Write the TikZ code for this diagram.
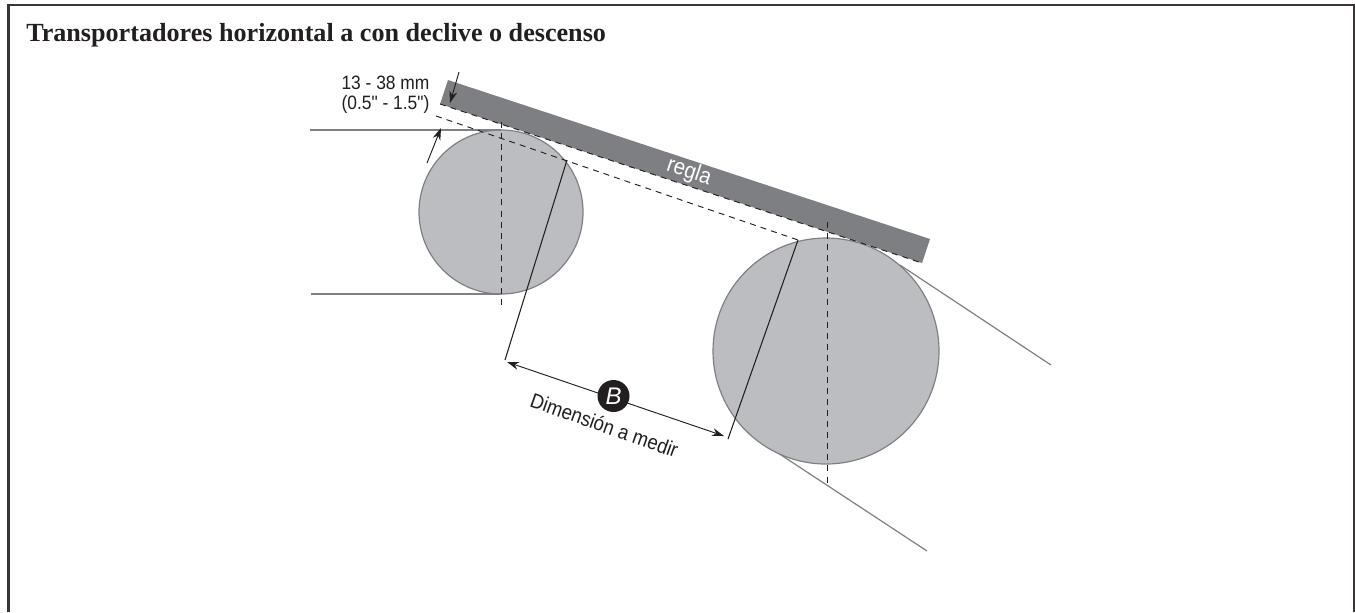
\documentclass[tikz,border=0pt]{standalone}
\usepackage{fontspec}
\setmainfont{Liberation Serif}
\newfontfamily\labfont{Liberation Sans}
\usetikzlibrary{arrows.meta}
\definecolor{rulergray}{HTML}{7E7F83}
\definecolor{rollfill}{HTML}{BBBDC0}
\definecolor{rolledge}{HTML}{7F8083}
\definecolor{ink}{HTML}{231F20}
\tikzset{
  x=0.75pt,y=-0.75pt,
  roll/.style={circle,draw=rolledge,fill=rollfill,line width=0.9pt,inner sep=0pt},
  belt/.style={draw=rolledge,line width=0.9pt},
  dashline/.style={draw=ink,line width=0.7pt,dash pattern=on 4.5pt off 3.8pt},
  extline/.style={draw=ink,line width=0.8pt},
  dimarrow/.style={draw=ink,line width=0.7pt,-{Stealth[length=9pt,width=6pt]}},
  dimboth/.style={draw=ink,line width=0.7pt,{Stealth[length=9pt,width=6pt]}-{Stealth[length=9pt,width=6pt]}},
  lab/.style={xscale=0.9,transform shape,font=\labfont\fontsize{14.5}{15}\selectfont,text=ink,inner sep=0pt,align=center},
}
\begin{document}
\begin{tikzpicture}
\useasboundingbox (0,0) rectangle (1355,612);
\path[fill=white] (0,0) rectangle (1355,612);
\draw[draw=ink!90,line width=1.9pt] (8.7,612) -- (8.7,5) -- (1353.8,5) -- (1353.8,612);
\node[anchor=west,inner sep=0pt,font=\bfseries\fontsize{19.6}{21}\selectfont,text=ink] (title) at (26,35) {Transportadores horizontal a con declive o descenso};
% rollers
\coordinate (t1a) at (310,130); \coordinate (t1b) at (501,130);
\coordinate (t2a) at (311,294); \coordinate (t2b) at (501,294);
\coordinate (t3a) at (900,265); \coordinate (t3b) at (1051,365);
\coordinate (t4a) at (775,451); \coordinate (t4b) at (927,551);
\draw[belt] (t3a) -- (t3b);
\draw[belt] (t4a) -- (t4b);
\node[roll,minimum size=123pt] (small) at (501,212) {};
\node[roll,minimum size=169.5pt] (large) at (826,351) {};
\draw[belt] (t1a) -- (t1b);
\draw[belt] (t2a) -- (t2b);
% ruler
\fill[rulergray] (448,80) -- (930,239) -- (922,263) -- (440,104) -- cycle;
\node[rotate=-18.5,lab,text=white,font=\labfont\fontsize{17}{17}\selectfont] (regla) at (689,172) {regla};
% dashed lines
\coordinate (r1) at (440,104); \coordinate (r2) at (922,263);
\coordinate (d1) at (436,116); \coordinate (d2) at (798,240);
\coordinate (v1a) at (501,122); \coordinate (v1b) at (501,307);
\coordinate (v2a) at (827,222); \coordinate (v2b) at (827,484);
\draw[dashline] (r1) -- (r2);
\draw[dashline] (d1) -- (d2);
\draw[dashline] (v1a) -- (v1b);
\draw[dashline] (v2a) -- (v2b);
% extension lines
\coordinate (e1a) at (567,160); \coordinate (e1b) at (505,360);
\coordinate (e2a) at (798,240); \coordinate (e2b) at (728,439);
\draw[extline] (e1a) -- (e1b);
\draw[extline] (e2a) -- (e2b);
% dimension
\coordinate (b1) at (507,362); \coordinate (b2) at (724,436);
\draw[dimboth] (b1) -- (b2);
\node[circle,fill=ink,minimum size=24pt,inner sep=0pt,text=white,font=\labfont\itshape\fontsize{18}{18}\selectfont] (B) at (613.5,396) {B};
\node[rotate=-19.5,lab,font=\labfont\fontsize{15.5}{16}\selectfont] (dimlab) at (604.5,425) {Dimensión a medir};
% gap arrows
\coordinate (g1a) at (459,72); \coordinate (g1b) at (450,103);
\coordinate (g2a) at (427,163); \coordinate (g2b) at (441,128);
\draw[dimarrow] (g1a) -- (g1b);
\draw[dimarrow] (g2a) -- (g2b);
\node[lab] (gaplab) at (385.5,95) {13 - 38 mm\\(0.5" - 1.5")};
\end{tikzpicture}
\end{document}
